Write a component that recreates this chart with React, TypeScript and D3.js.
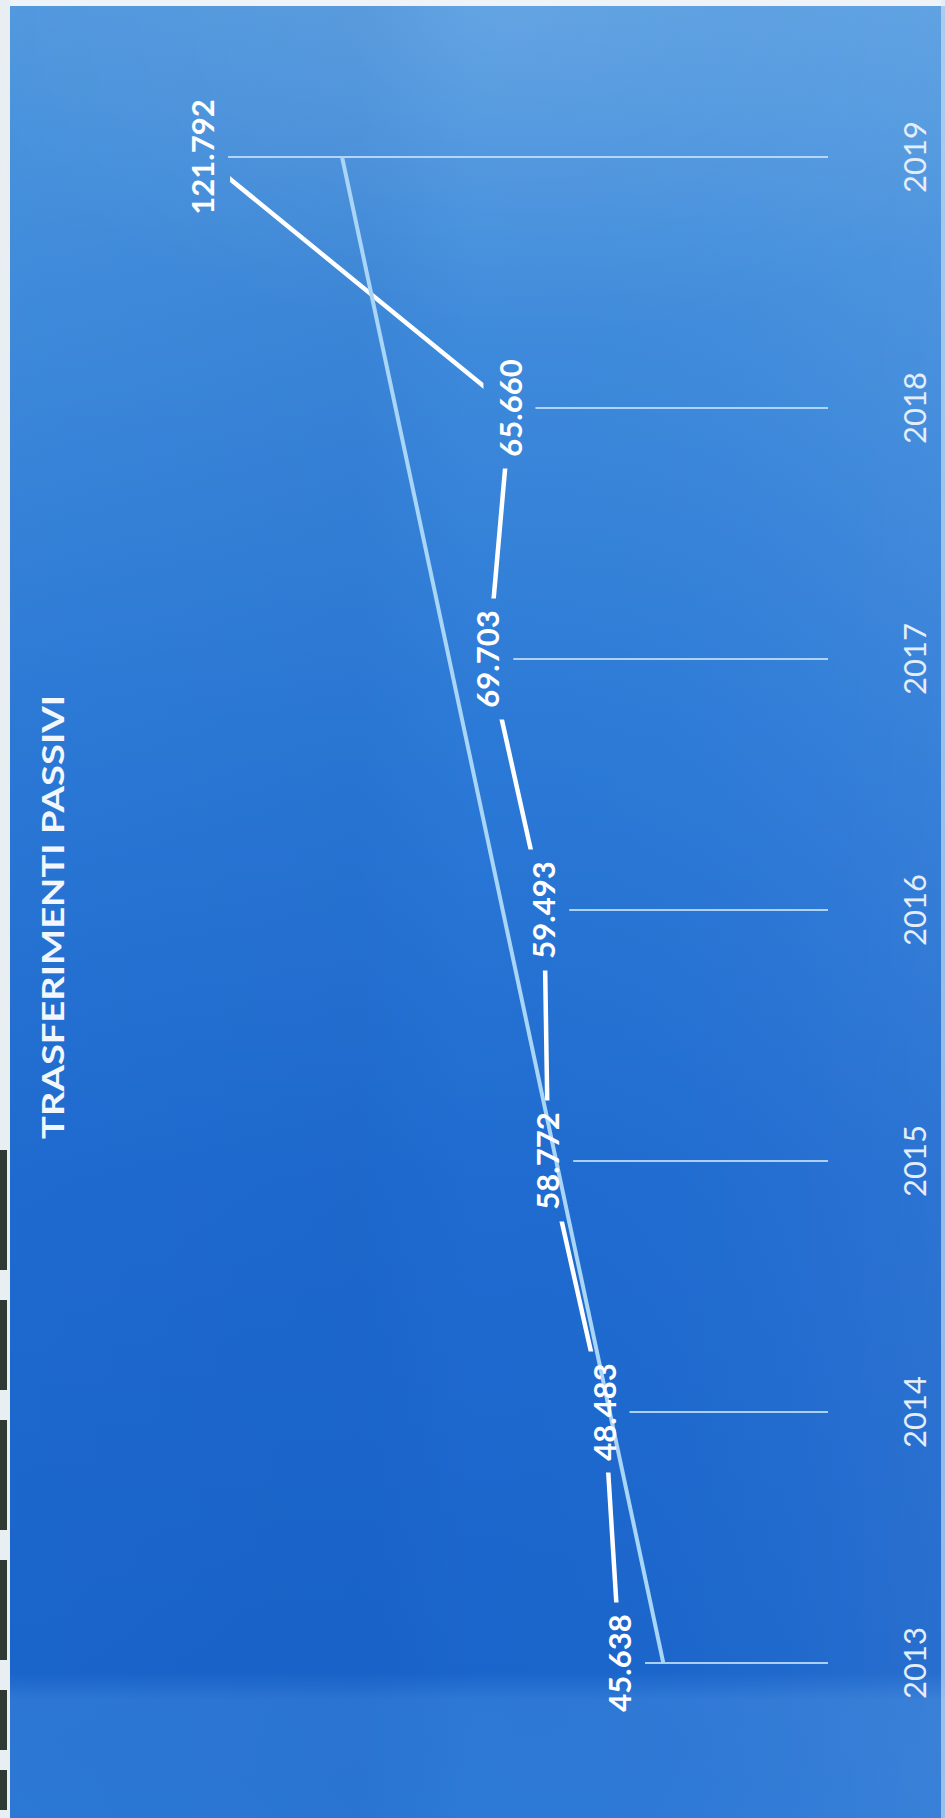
import React, { useEffect } from 'react';
import * as d3 from 'd3';

const years = ['2013', '2014', '2015', '2016', '2017', '2018', '2019'];
const values = [45.638, 48.483, 58.772, 59.493, 69.703, 65.66, 121.792];
const valueLabels = ['45.638', '48.483', '58.772', '59.493', '69.703', '65.660', '121.792'];
const title = 'TRASFERIMENTI PASSIVI';

const W = 945;
const H = 1818;
// unrotated frame: horizontal length = H, vertical = W
const x = d3.scalePoint<string>().domain(years).range([155, 1661]);
const y = d3.scaleLinear().domain([0, 140]).range([870, 870 - 5.476 * 140]);

// linear trend line computed from the data
const idx = values.map((_, i) => i);
const mx = d3.mean(idx) as number;
const my = d3.mean(values) as number;
const slope =
  (d3.sum(idx, (i) => (i - mx) * (values[i] - my)) as number) /
  (d3.sum(idx, (i) => (i - mx) * (i - mx)) as number);
const trendEnds = [0, idx.length - 1].map((i) => ({ year: years[i], v: my + slope * (i - mx) }));

const FONT = "Lato, 'Open Sans', 'DejaVu Sans', sans-serif";

export default function App() {
  useEffect(() => {
    document.body.style.margin = '0';
  }, []);

  const line = d3
    .line<number>()
    .x((_, i) => x(years[i]) as number)
    .y((d) => y(d));

  const trendLine = d3
    .line<{ year: string; v: number }>()
    .x((d) => x(d.year) as number)
    .y((d) => y(d.v));

  const labelLen = (s: string) => s.length * 16.5 + 4;

  return (
    <svg width={W} height={H} style={{ display: 'block' }} xmlns="http://www.w3.org/2000/svg">
      <defs>
        <linearGradient id="bgV" x1="0" y1="0" x2="0" y2="1">
          <stop offset="0" stopColor="#529ae0" />
          <stop offset="0.15" stopColor="#418ddc" />
          <stop offset="0.4" stopColor="#2c7ad7" />
          <stop offset="0.65" stopColor="#1f6bd0" />
          <stop offset="0.92" stopColor="#1a65cb" />
          <stop offset="0.935" stopColor="#2e78d5" />
          <stop offset="1" stopColor="#2c79d6" />
        </linearGradient>
        <linearGradient id="bgH" x1="0" y1="0" x2="1" y2="0">
          <stop offset="0" stopColor="#0a3f9a" stopOpacity="0.02" />
          <stop offset="0.38" stopColor="#0a3f9a" stopOpacity="0.08" />
          <stop offset="0.5" stopColor="#0a3f9a" stopOpacity="0.0" />
          <stop offset="0.9" stopColor="#ffffff" stopOpacity="0.04" />
          <stop offset="1" stopColor="#ffffff" stopOpacity="0.06" />
        </linearGradient>
        <radialGradient id="hl" cx="0.55" cy="0.03" r="0.6">
          <stop offset="0" stopColor="#ffffff" stopOpacity="0.1" />
          <stop offset="1" stopColor="#ffffff" stopOpacity="0" />
        </radialGradient>
        <mask id="lblMask" maskUnits="userSpaceOnUse" x="0" y="0" width={H} height={W}>
          <rect x="0" y="0" width={H} height={W} fill="#fff" />
          {values.map((v, i) => {
            const L = labelLen(valueLabels[i]);
            return (
              <rect
                key={i}
                x={(x(years[i]) as number) - L / 2 - 9}
                y={y(v) - 27}
                width={L + 18}
                height={54}
                fill="#000"
              />
            );
          })}
        </mask>
      </defs>

      <rect x="0" y="0" width={W} height={H} fill="url(#bgV)" />
      <rect x="0" y="0" width={W} height={H} fill="url(#bgH)" />
      <rect x="0" y="0" width={W} height={H * 0.3} fill="url(#hl)" />

      {/* scan edges */}
      <rect x="0" y="0" width={W} height="6" fill="#eef3f8" />
      <rect x="0" y="0" width="10" height={H} fill="#e9eef3" />
      <rect x={W - 4} y="0" width="4" height={H} fill="#dfe9f4" opacity={0.6} />
      <rect x="0" y="1150" width="7" height="120" fill="#2f3a33" />
      <rect x="0" y="1300" width="7" height="90" fill="#2f3a33" />
      <rect x="0" y="1420" width="7" height="110" fill="#2f3a33" />
      <rect x="0" y="1560" width="7" height="100" fill="#2f3a33" />
      <rect x="0" y="1690" width="7" height="60" fill="#2f3a33" />
      <rect x="0" y="1770" width="7" height="40" fill="#2f3a33" />

      <g transform={`translate(0,${H}) rotate(-90)`}>
        {/* drop lines */}
        {values.map((v, i) => (
          <line
            key={'d' + i}
            x1={x(years[i]) as number}
            x2={x(years[i]) as number}
            y1={y(v) + 25}
            y2={y(0) - 42}
            stroke="#c4e2fb"
            strokeOpacity={0.85}
            strokeWidth={2}
          />
        ))}

        {/* data line */}
        <path
          d={line(values) as string}
          fill="none"
          stroke="#ffffff"
          strokeWidth={4.5}
          mask="url(#lblMask)"
        />

        {/* trend line */}
        <path d={trendLine(trendEnds) as string} fill="none" stroke="#a9d5f6" strokeWidth={4} />

        {/* data labels */}
        {values.map((v, i) => (
          <text
            key={'l' + i}
            x={x(years[i]) as number}
            y={y(v)}
            dy="0.36em"
            textAnchor="middle"
            fontFamily={FONT}
            fontWeight={700}
            fontSize={31}
            fill="#ffffff"
          >
            {valueLabels[i]}
          </text>
        ))}

        {/* category axis labels */}
        {years.map((yr) => (
          <text
            key={'y' + yr}
            x={x(yr) as number}
            y={915}
            dy="0.36em"
            textAnchor="middle"
            fontFamily={FONT}
            fontSize={31}
            fill="#e3eefa"
          >
            {yr}
          </text>
        ))}

        {/* title */}
        <text
          x={H - 917}
          y={53}
          dy="0.36em"
          textAnchor="middle"
          fontFamily={FONT}
          fontWeight={700}
          fontSize={30}
          fill="#f2f7fd"
          textLength={444}
          lengthAdjust="spacingAndGlyphs"
        >
          {title}
        </text>
      </g>
    </svg>
  );
}
